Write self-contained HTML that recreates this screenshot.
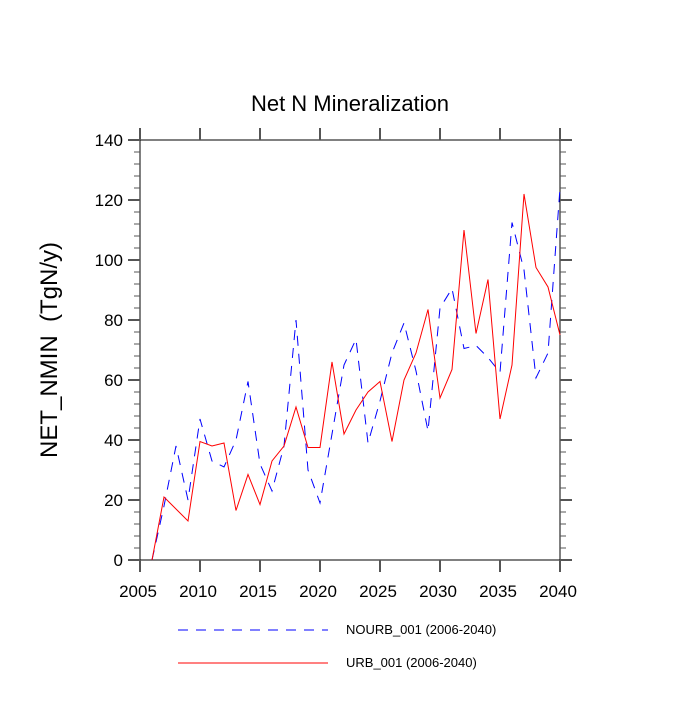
<!DOCTYPE html>
<html><head><meta charset="utf-8"><style>
body{margin:0;background:#fff}
svg text{font-family:"Liberation Sans",sans-serif;fill:#000}
</style></head><body>
<svg id="c" width="700" height="700" viewBox="0 0 700 700">
<text x="350" y="111" font-size="22" text-anchor="middle">Net N Mineralization</text>
<text transform="translate(57,350) rotate(-90)" font-size="24" text-anchor="middle" xml:space="preserve">NET_NMIN  (TgN/y)</text>
<g id="axes"></g>
<g id="series"></g>
<g>
<line x1="178" y1="630" x2="328" y2="630" stroke="#0000ff" stroke-dasharray="10,8"/>
<text x="346" y="634" font-size="13">NOURB_001 (2006-2040)</text>
<line x1="178" y1="663" x2="328" y2="663" stroke="#ff0000"/>
<text x="346" y="667" font-size="13">URB_001 (2006-2040)</text>
</g>
</svg>
<script>
const years=[2006,2007,2008,2009,2010,2011,2012,2013,2014,2015,2016,2017,2018,2019,2020,2021,2022,2023,2024,2025,2026,2027,2028,2029,2030,2031,2032,2033,2034,2035,2036,2037,2038,2039,2040];
const urb=[0,21,17,13,39.5,38,39,16.5,28.5,18.5,33,38,51,37.5,37.5,66,42,50,56,59.5,39.5,60,69,83.5,54,63.5,110,75.5,93.5,47,65,122,97.5,91,75];
const nourb=[0,18,38,20,47,33,31,40,59.5,32,23,38,80,30,19,42,65,73.6,39,53,69,79,63,43,84,90.5,70.5,71.5,67.5,62.5,112.5,96.7,60.7,69,124];
const xTicks=[2005,2010,2015,2020,2025,2030,2035,2040];
const yTicks=[0,20,40,60,80,100,120,140];
const X0=140,X1=560,Y0=560,Y1=140;
const xs=v=>X0+(v-2005)/(2040-2005)*(X1-X0);
const ys=v=>Y0-(v/140)*(Y0-Y1);
const NS="http://www.w3.org/2000/svg";
function mk(t,a,p){const e=document.createElementNS(NS,t);for(const k in a)e.setAttribute(k,a[k]);p.appendChild(e);return e;}
const ax=document.getElementById('axes');
const fr=mk('rect',{x:X0,y:Y1,width:X1-X0,height:Y0-Y1,fill:'none',stroke:'#000','stroke-width':1},ax);


const tc='#555';
xTicks.forEach(v=>{const x=xs(v);
mk('line',{x1:x,y1:Y0,x2:x,y2:Y0+12,stroke:tc,'stroke-width':2},ax);
mk('line',{x1:x,y1:Y1,x2:x,y2:Y1-12,stroke:tc,'stroke-width':2},ax);
const t=mk('text',{x:x-2,y:Y0+37,'font-size':17,'text-anchor':'middle'},ax);t.textContent=v;

});
for(let v=0;v<=140;v+=4){const y=ys(v);const m=v%20===0;const L=m?12:6;
mk('line',{x1:X0,y1:y,x2:X0-L,y2:y,stroke:tc,'stroke-width':m?2:1},ax);
mk('line',{x1:X1,y1:y,x2:X1+L,y2:y,stroke:tc,'stroke-width':m?2:1},ax);}
yTicks.forEach(v=>{const t=mk('text',{x:X0-17,y:ys(v)+6,'font-size':17,'text-anchor':'end'},ax);t.textContent=v;

});
const sg=document.getElementById('series');
const pb=mk('polyline',{points:years.map((y,i)=>xs(y)+','+ys(nourb[i])).join(' '),fill:'none',stroke:'#0000ff','stroke-width':1,'stroke-dasharray':'10,8'},sg);


const pr=mk('polyline',{points:years.map((y,i)=>xs(y)+','+ys(urb[i])).join(' '),fill:'none',stroke:'#ff0000','stroke-width':1},sg);


</script>
</body></html>
